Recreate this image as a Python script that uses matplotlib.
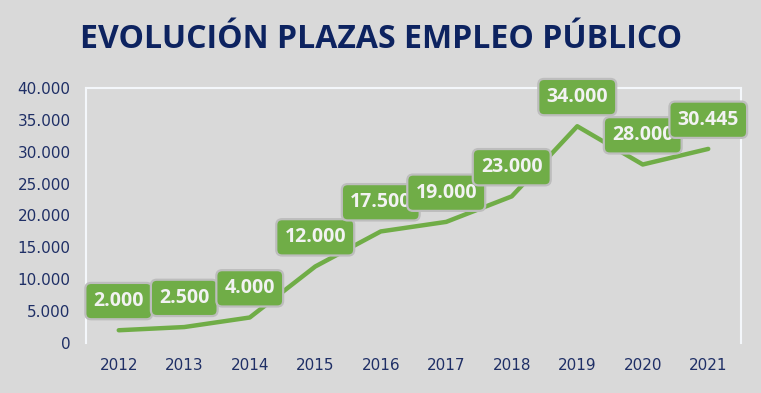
import matplotlib.pyplot as plt

years = ['2012', '2013', '2014', '2015', '2016', '2017', '2018', '2019', '2020', '2021']
plazas = [2000, 2500, 4000, 12000, 17500, 19000, 23000, 34000, 28000, 30445]
labels = ['2.000', '2.500', '4.000', '12.000', '17.500', '19.000', '23.000', '34.000', '28.000', '30.445']
yticks = [0, 5000, 10000, 15000, 20000, 25000, 30000, 35000, 40000]
ytick_labels = ['0', '5.000', '10.000', '15.000', '20.000', '25.000', '30.000', '35.000', '40.000']

bg = '#d9d9d9'
green = '#70ad47'
navy = '#1f2f66'

fig = plt.figure(figsize=(7.61, 3.93), dpi=100, facecolor=bg)
ax = fig.add_axes([86 / 761, 1 - 343 / 393, 655 / 761, 255 / 393])
ax.set_facecolor(bg)

x = [i + 0.5 for i in range(len(years))]
ax.plot(x, plazas, color=green, lw=3.2, solid_capstyle='round', solid_joinstyle='round')

# etiquetas de datos en cajas verdes
for xi, yi, lab in zip(x, plazas, labels):
    ax.annotate(lab, (xi, yi), xytext=(0, 21), textcoords='offset points',
                ha='center', va='center', color='#f2f2f2', fontsize=14, fontweight='bold',
                family='Open Sans', stretch='condensed',
                bbox=dict(boxstyle='round,pad=0.42,rounding_size=0.3', fc=green, ec='#bdbdbd', lw=1.6))

ax.set_xlim(0, 10)
ax.set_ylim(0, 40000)
ax.set_xticks(x)
ax.set_xticklabels(years)
ax.set_yticks(yticks)
ax.set_yticklabels(ytick_labels)
ax.tick_params(length=0, colors=navy, labelsize=11)
ax.tick_params(axis='x', pad=11)
ax.tick_params(axis='y', pad=11)
for lbl in ax.get_xticklabels() + ax.get_yticklabels():
    lbl.set_color(navy)

for side in ['left', 'top', 'right']:
    ax.spines[side].set_color('#f4f7fb')
    ax.spines[side].set_linewidth(1.5)
ax.spines['bottom'].set_visible(False)

fig.text(381 / 761, 1 - 40 / 393, 'EVOLUCIÓN PLAZAS EMPLEO PÚBLICO', ha='center', va='center',
         fontsize=23, fontweight='bold', color='#0d2360', family='Open Sans', stretch='condensed')

fig.savefig('out.png', dpi=100, facecolor=bg)
